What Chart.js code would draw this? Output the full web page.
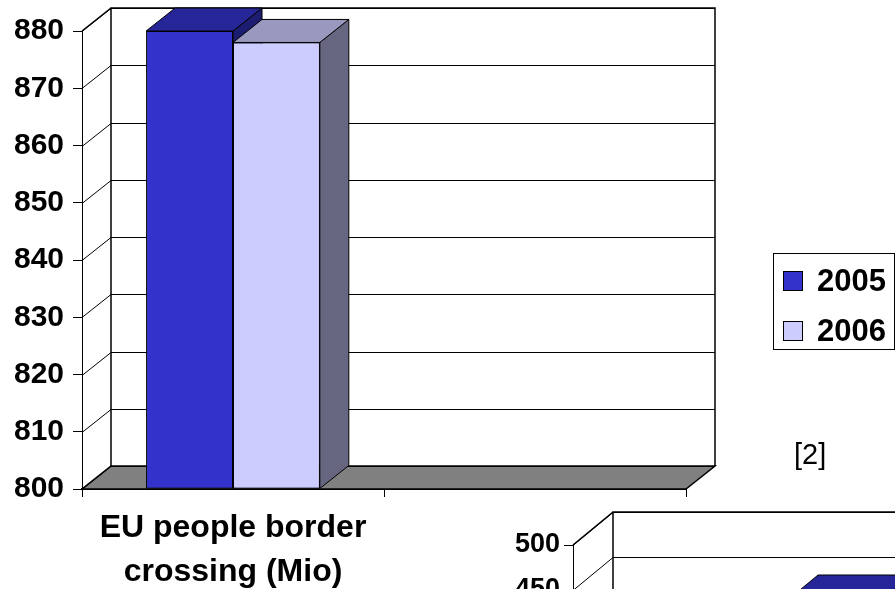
<!DOCTYPE html>
<html>
<head>
<meta charset="utf-8">
<script src="https://cdn.jsdelivr.net/npm/chart.js@4.4.0/dist/chart.umd.min.js"></script>
<style>
    html, body { margin: 0; padding: 0; background: #fff; }
    body { width: 895px; height: 589px; overflow: hidden; position: relative; font-family: "Liberation Sans", Arial, sans-serif; }
    #mainChart { position: absolute; left: 0; top: 0; }
    #insetChart { position: absolute; left: 470px; top: 490px; }
    .legend { position: absolute; left: 773px; top: 253px; width: 122px; height: 97px; border: 1px solid #000; box-sizing: border-box; }
    .legend-item { position: absolute; left: 9px; height: 30px; display: flex; align-items: center; font-weight: bold; font-size: 31px; color: #000; }
    .legend-item span { display: inline-block; width: 18px; height: 18px; border: 1px solid #000; margin-right: 14px; }
    .note { position: absolute; left: 794px; top: 437px; font-size: 29px; line-height: 34px; color: #000; }
</style>
</head>
<body>
<canvas id="mainChart" width="895" height="589"></canvas>
<canvas id="insetChart" width="700" height="560"></canvas>
<div class="legend" id="legend"></div>
<div class="note">[2]</div>
<script>
// main chart data
const categories = [['EU people border', 'crossing (Mio)'], ''];
const seriesNames = ['2005', '2006'];
const crossings2005 = [880, null];
const crossings2006 = [878, null];
const yTicks = [800, 810, 820, 830, 840, 850, 860, 870, 880];

// the second chart, only its top-left corner is in the picture
const insetCategories = [''];
const inset2005 = [430];
const inset2006 = [400];
const insetTicks = [0, 50, 100, 150, 200, 250, 300, 350, 400, 450, 500];

const frontColors = ['#3333CC', '#CCCCFF'];
const topColors = ['#262699', '#9999C0'];
const sideColors = ['#1C1C70', '#666680'];

const FONT = "'Liberation Sans', Arial, sans-serif";

function poly(ctx, pts, fill) {
    ctx.beginPath();
    ctx.moveTo(pts[0][0], pts[0][1]);
    for (let i = 1; i < pts.length; i++) ctx.lineTo(pts[i][0], pts[i][1]);
    ctx.closePath();
    ctx.fillStyle = fill;
    ctx.fill();
    ctx.stroke();
}

// fake excel 3d look: back wall, floor, bar tops and sides
const depthPlugin = {
    id: 'depth',
    beforeDatasetsDraw(chart, args, opts) {
        const { ctx, chartArea: a, scales: { y } } = chart;
        const dx = opts.dx, dy = opts.dy;
        ctx.save();
        ctx.strokeStyle = '#000';
        ctx.lineWidth = 1.5;
        poly(ctx, [[a.left, a.bottom], [a.right, a.bottom], [a.right + dx, a.bottom - dy], [a.left + dx, a.bottom - dy]], '#808080');
        ctx.lineWidth = 1;
        y.ticks.forEach(t => {
            const py = Math.round(y.getPixelForValue(t.value)) + 0.5;
            ctx.beginPath();
            ctx.moveTo(a.left, py);
            ctx.lineTo(a.left + dx, py - dy);
            ctx.lineTo(a.right + dx, py - dy);
            ctx.stroke();
        });
        ctx.lineWidth = 1.5;
        ctx.beginPath();
        ctx.moveTo(a.left + dx, a.bottom - dy);
        ctx.lineTo(a.left + dx, a.top - dy);
        ctx.lineTo(a.right + dx, a.top - dy);
        ctx.lineTo(a.right + dx, a.bottom - dy);
        ctx.moveTo(a.left, a.top);
        ctx.lineTo(a.left + dx, a.top - dy);
        ctx.stroke();
        ctx.restore();
    },
    afterDatasetsDraw(chart, args, opts) {
        const { ctx } = chart;
        const dx = opts.dx, dy = opts.dy;
        const bars = [];
        chart.data.datasets.forEach((ds, di) => {
            const meta = chart.getDatasetMeta(di);
            meta.data.forEach((el, i) => {
                if (ds.data[i] == null) return;
                bars.push({ el, di });
            });
        });
        bars.sort((p, q) => p.el.x - q.el.x);
        ctx.save();
        ctx.strokeStyle = '#000';
        ctx.lineWidth = 1;
        bars.forEach(({ el, di }) => {
            el.draw(ctx, chart.chartArea);
            const { x, y, base, width } = el.getProps(['x', 'y', 'base', 'width'], true);
            const l = x - width / 2, r = x + width / 2;
            poly(ctx, [[r, y], [r + dx, y - dy], [r + dx, base - dy], [r, base]], sideColors[di]);
            poly(ctx, [[l, y], [r, y], [r + dx, y - dy], [l + dx, y - dy]], topColors[di]);
        });
        ctx.restore();
    }
};

function makeDatasets(values, base) {
    return values.map((v, i) => ({
        label: seriesNames[i],
        data: v,
        base: base,
        backgroundColor: frontColors[i],
        borderColor: '#000',
        borderWidth: 1,
        borderSkipped: false
    }));
}

new Chart(document.getElementById('mainChart'), {
    type: 'bar',
    data: { labels: categories, datasets: makeDatasets([crossings2005, crossings2006], yTicks[0]) },
    options: {
        responsive: false,
        animation: false,
        events: [],
        layout: { padding: { top: 31, right: 209, left: 0, bottom: 0 } },
        datasets: { bar: { categoryPercentage: 0.575, barPercentage: 1 } },
        plugins: {
            legend: { display: false },
            tooltip: { enabled: false },
            depth: { dx: 29, dy: 23 }
        },
        scales: {
            x: {
                afterFit: s => { s.height = 100; },
                border: { color: '#000', width: 2 },
                grid: { drawOnChartArea: false, color: '#000', tickLength: 8 },
                ticks: {
                    color: '#000', padding: 9, maxRotation: 0, autoSkip: false,
                    font: { family: FONT, size: 32, weight: 'bold', lineHeight: 1.375 }
                }
            },
            y: {
                min: yTicks[0],
                max: yTicks[yTicks.length - 1],
                afterFit: s => { s.width = 82; },
                border: { color: '#000', width: 1 },
                grid: { drawOnChartArea: false, color: '#000', tickLength: 9 },
                ticks: {
                    stepSize: yTicks[1] - yTicks[0], color: '#000', padding: 9,
                    font: { family: FONT, size: 30, weight: 'bold' }
                }
            }
        }
    },
    plugins: [depthPlugin]
});

new Chart(document.getElementById('insetChart'), {
    type: 'bar',
    data: { labels: insetCategories, datasets: makeDatasets([inset2005, inset2006], insetTicks[0]) },
    options: {
        responsive: false,
        animation: false,
        events: [],
        layout: { padding: { top: 55, right: 0, left: 0, bottom: 0 } },
        datasets: { bar: { categoryPercentage: 0.313, barPercentage: 1 } },
        plugins: {
            legend: { display: false },
            tooltip: { enabled: false },
            depth: { dx: 40, dy: 33 }
        },
        scales: {
            x: {
                afterFit: s => { s.height = 55; },
                border: { color: '#000', width: 2 },
                grid: { drawOnChartArea: false, color: '#000', tickLength: 8 },
                ticks: { display: false }
            },
            y: {
                min: insetTicks[0],
                max: insetTicks[insetTicks.length - 1],
                afterFit: s => { s.width = 103; },
                border: { color: '#000', width: 1 },
                grid: { drawOnChartArea: false, color: '#000', tickLength: 9 },
                ticks: {
                    stepSize: insetTicks[1] - insetTicks[0], color: '#000', padding: 4,
                    font: { family: FONT, size: 27, weight: 'bold' }
                }
            }
        }
    },
    plugins: [depthPlugin]
});

// html legend built from the series
const legend = document.getElementById('legend');
seriesNames.forEach((name, i) => {
    const item = document.createElement('div');
    item.className = 'legend-item';
    item.style.top = (12 + i * 50) + 'px';
    item.innerHTML = '<span style="background:' + frontColors[i] + '"></span>' + name;
    legend.appendChild(item);
});
</script>
</body>
</html>
